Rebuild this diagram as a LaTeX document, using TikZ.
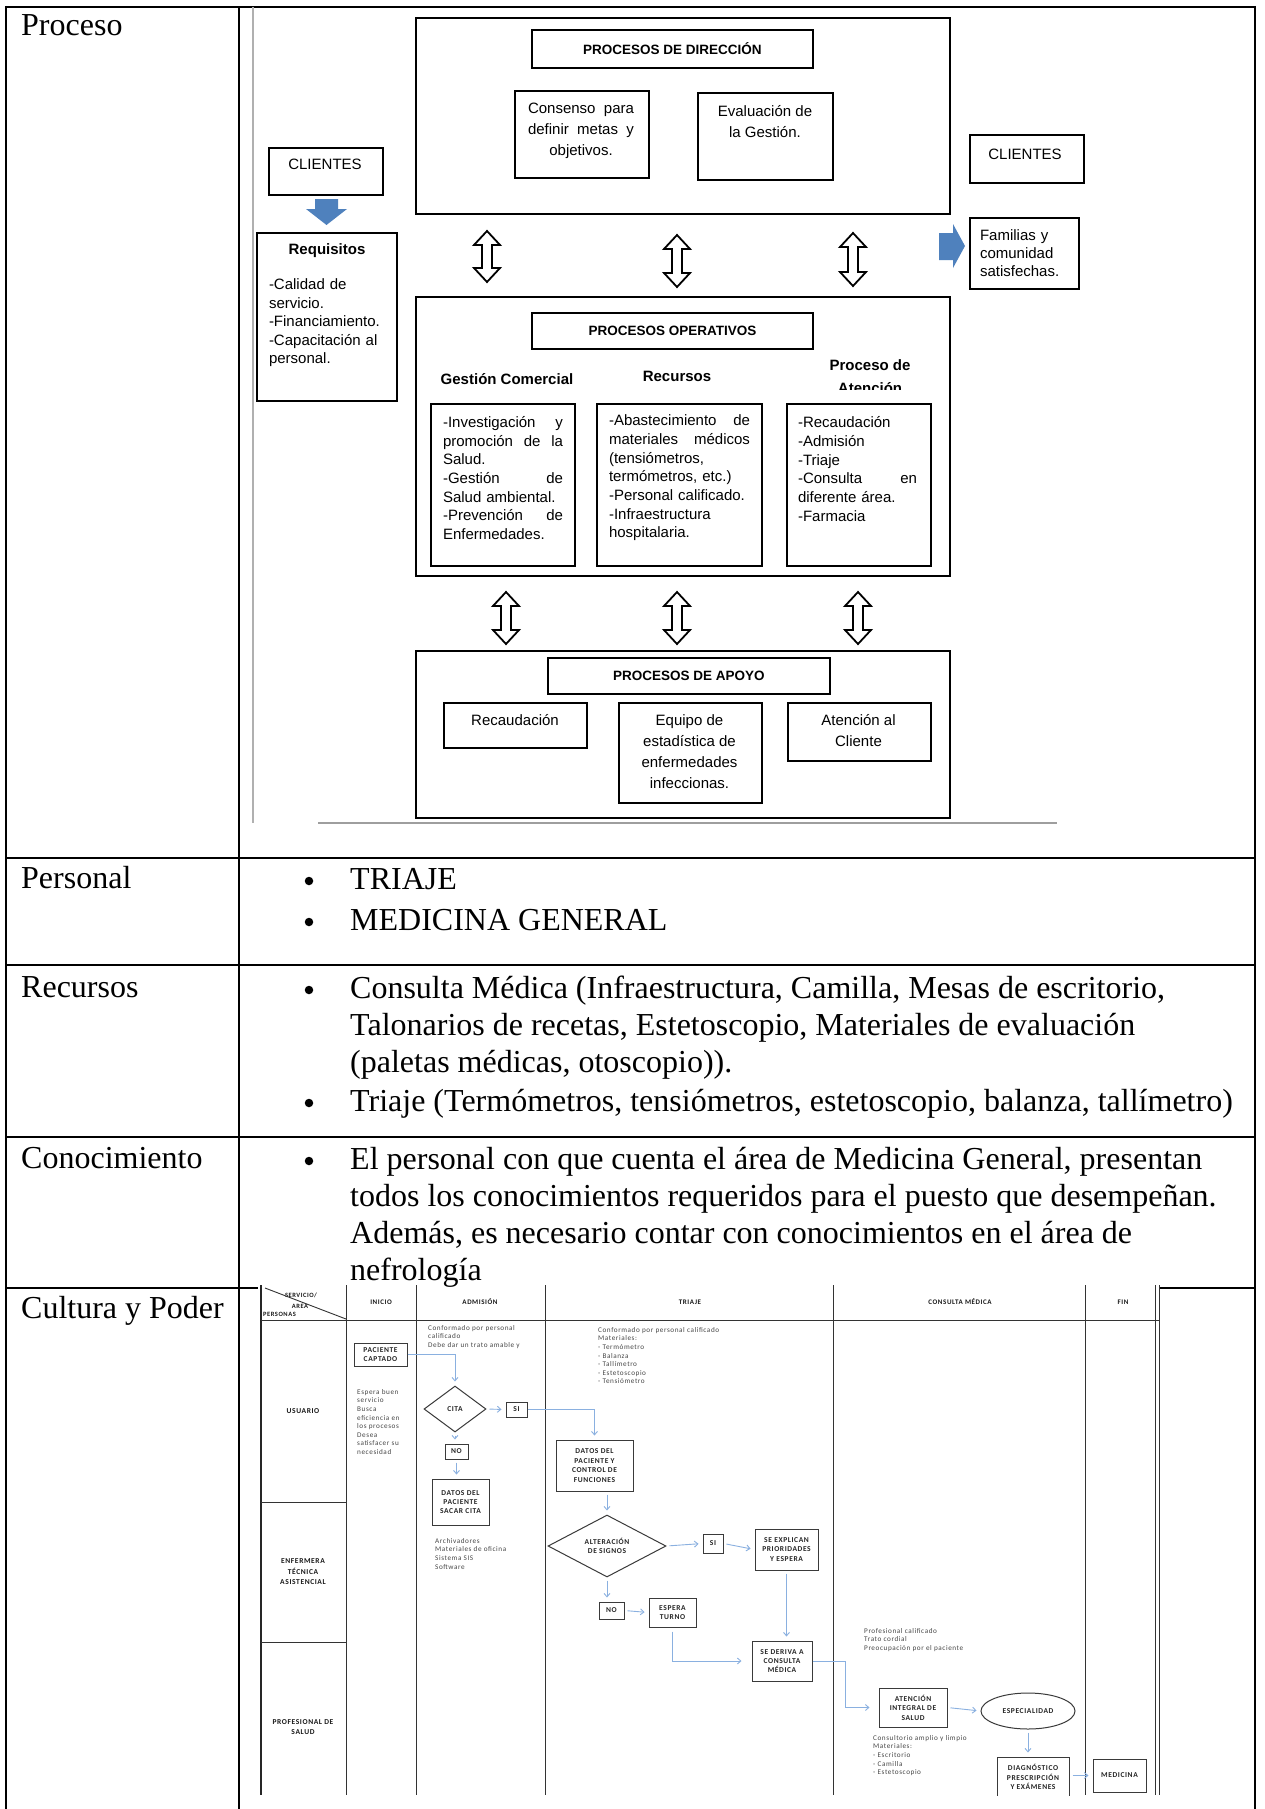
\documentclass[tikz,border=0pt]{standalone}
\usepackage{fontspec}
\setmainfont{Liberation Serif}
\newfontfamily\arialf{Liberation Sans}
\newfontfamily\calf[LetterSpace=8]{Carlito}
\usetikzlibrary{shapes.geometric,arrows.meta}

\definecolor{blockblue}{HTML}{4F81BD}
\definecolor{flowblue}{HTML}{8AB0E0}
\definecolor{boxgray}{HTML}{3A3A3A}
\definecolor{notegray}{HTML}{484848}
\definecolor{rulegray}{HTML}{B0B0B0}

% hollow up-down block arrow: centre x, top y, bottom y
\newcommand\hollowarrow[3]{%
  \draw[line width=1.8pt, fill=white]
    (#1,#2) -- (#1+13,#2+14) -- (#1+5,#2+14) -- (#1+5,#3-14) -- (#1+13,#3-14)
    -- (#1,#3) -- (#1-13,#3-14) -- (#1-5,#3-14) -- (#1-5,#2+14) -- (#1-13,#2+14) -- cycle;}

\begin{document}
\begin{tikzpicture}[x=1pt,y=-1pt,
  tblrule/.style={line width=2.2pt},
  tt/.style={font=\fontsize{32}{37}\selectfont, inner sep=0pt, anchor=base west},
  dot/.style={circle, fill, inner sep=0pt, minimum size=8.5pt},
  pbox/.style={draw, line width=1.8pt, inner sep=0pt, anchor=north west},
  ptitle/.style={font=\arialf\bfseries\fontsize{13.5}{16}\selectfont, inner sep=0pt},
  phead/.style={font=\arialf\bfseries\fontsize{15}{18}\selectfont, inner sep=0pt},
  ptext/.style={font=\arialf\fontsize{15}{18.7}\selectfont, inner sep=0pt},
  pwide/.style={font=\arialf\fontsize{15}{21}\selectfont, inner sep=0pt, align=center},
  lane/.style={line width=0.9pt, black!80},
  fb/.style={draw=boxgray, line width=1pt, inner sep=0pt, align=center,
    font=\calf\bfseries\fontsize{7.5}{9.4}\selectfont, text=black!85},
  fhead/.style={font=\calf\bfseries\fontsize{7}{9}\selectfont, inner sep=0pt, text=black!90},
  flane/.style={font=\calf\bfseries\fontsize{7.5}{10.5}\selectfont, inner sep=0pt, align=center, text=black!90},
  fnote/.style={font=\calf\fontsize{7.2}{8.6}\selectfont, text=notegray, align=left, inner sep=0pt, anchor=north west},
  flow/.style={draw=flowblue, line width=0.9pt, -{Straight Barb[length=3.5pt,width=6pt]}, shorten >=4pt, shorten <=3pt},
  flowl/.style={draw=flowblue, line width=0.9pt, -{Straight Barb[length=3.5pt,width=6pt]}, shorten >=4pt}
]
\useasboundingbox (0,0) rectangle (1265,1809);
\fill[white] (0,0) rectangle (1265,1809);

% ---------------- table frame ----------------
\draw[tblrule] (6,7) -- (1255,7);
\draw[tblrule] (6,6) -- (6,1809);
\draw[tblrule] (239,7) -- (239,1809);
\draw[tblrule] (1255,6) -- (1255,1809);
\draw[tblrule] (6,858) -- (1255,858);
\draw[tblrule] (6,965) -- (1255,965);
\draw[tblrule] (6,1137) -- (1255,1137);
\draw[tblrule] (6,1288) -- (258,1288);
\draw[tblrule] (1160,1288) -- (1255,1288);

% row labels
\node[tt] (lProceso) at (21,36) {Proceso};
\node[tt] (lPersonal) at (21,888) {Personal};
\node[tt] (lRecursos) at (21,997) {Recursos};
\node[tt] (lConoc) at (21,1168) {Conocimiento};
\node[tt] (lCultura) at (21,1318) {Cultura y Poder};

% Personal
\node[dot] (bP1) at (309,881) {};
\node[tt] (tP1) at (350,889) {TRIAJE};
\node[dot] (bP2) at (309,922) {};
\node[tt] (tP2) at (350,930) {MEDICINA GENERAL};

% Recursos
\node[dot] (bR1) at (309,990) {};
\node[tt] (tR1) at (350,998) {Consulta Médica (Infraestructura, Camilla, Mesas de escritorio,};
\node[tt] (tR2) at (350,1035) {Talonarios de recetas, Estetoscopio, Materiales de evaluación};
\node[tt] (tR3) at (350,1072) {(paletas médicas, otoscopio)).};
\node[dot] (bR2) at (309,1103) {};
\node[tt] (tR4) at (350,1111) {Triaje (Termómetros, tensiómetros, estetoscopio, balanza, tallímetro)};

% Conocimiento
\node[dot] (bC1) at (309,1161) {};
\node[tt] (tC1) at (350,1169) {El personal con que cuenta el área de Medicina General, presentan};
\node[tt] (tC2) at (350,1206) {todos los conocimientos requeridos para el puesto que desempeñan.};
\node[tt] (tC3) at (350,1243) {Además, es necesario contar con conocimientos en el área de};
\node[tt] (tC4) at (350,1280) {nefrología};

% ---------------- process map ----------------
\draw[rulegray, line width=1.5pt] (253,7) -- (253,823);
\draw[rulegray!90!black, line width=1.5pt] (318,823) -- (1057,823);

% direction processes
\node[pbox, minimum width=534pt, minimum height=196pt] (dir) at (415,17) {};
\node[pbox, minimum width=281pt, minimum height=38pt] (dirT) at (531,29) {};
\node[ptitle] (dirTx) at (dirT.center) {PROCESOS DE DIRECCIÓN};
\node[pbox, minimum width=134pt, minimum height=87pt] (cons) at (514,90) {};
\node[ptext, align=center, text width=106pt, font=\arialf\fontsize{15}{21}\selectfont] (consT) at (581,131)
  {Consenso\hfill para\\definir\hfill metas\hfill y\\objetivos.};
\node[pbox, minimum width=135pt, minimum height=87pt] (eval) at (697,92) {};
\node[pwide] (evalT) at (765,122) {Evaluación de\\la Gestión.};

% clients and requirements
\node[pbox, minimum width=114pt, minimum height=47pt] (cliL) at (268,147) {};
\node[ptext] (cliLT) at (325,164) {CLIENTES};
\fill[blockblue] (315,199) -- (338,199) -- (338,209) -- (347,209) -- (326.5,225)
  -- (306,209) -- (315,209) -- cycle;
\node[pbox, minimum width=140pt, minimum height=168pt] (req) at (256,232) {};
\node[phead] (reqH) at (327,251) {Requisitos};
\node[ptext, align=left, text width=125pt, font=\arialf\fontsize{15}{18.5}\selectfont] (reqT) at (331.5,323)
  {-Calidad de\\servicio.\\-Financiamiento.\\-Capacitación al\\personal.};

\node[pbox, minimum width=114pt, minimum height=48pt] (cliR) at (969,134) {};
\node[ptext] (cliRT) at (1025,154) {CLIENTES};
\fill[blockblue] (939,233) -- (953,233) -- (953,224) -- (965,246) -- (953,268)
  -- (953,260) -- (939,260) -- cycle;
\node[pbox, minimum width=109pt, minimum height=71pt] (fam) at (969,217) {};
\node[ptext, align=left, text width=100pt, font=\arialf\fontsize{15}{18}\selectfont] (famT) at (1030,253)
  {Familias y\\comunidad\\satisfechas.};

% links between levels
\hollowarrow{487}{231}{282}
\hollowarrow{677}{235}{287}
\hollowarrow{853}{233}{286}

% operative processes
\node[pbox, minimum width=534pt, minimum height=279pt] (op) at (415,296) {};
\node[pbox, minimum width=281pt, minimum height=36pt] (opT) at (531,312) {};
\node[ptitle] (opTx) at (opT.center) {PROCESOS OPERATIVOS};
\node[phead] (hGest) at (507,379) {Gestión Comercial};
\node[phead] (hRec) at (677,376) {Recursos};
\node[phead] (hProc) at (870,365) {Proceso de};
\begin{scope}
  \clip (800,340) rectangle (940,389);
  \node[phead] (hAten) at (870,388) {Atención};
\end{scope}
\node[pbox, minimum width=144pt, minimum height=162pt] (g1) at (430,403) {};
\node[pbox, minimum width=165pt, minimum height=162pt] (g2) at (596,403) {};
\node[pbox, minimum width=144pt, minimum height=162pt] (g3) at (786,403) {};
\node[ptext, align=left, text width=120pt] (g1T) at (503,478)
  {-Investigación\hfill y\\promoción\hfill de\hfill la\\Salud.\\-Gestión\hfill de\\Salud ambiental.\\-Prevención\hfill de\\Enfermedades.};
\node[ptext, align=left, text width=141pt] (g2T) at (679.5,478)
  {-Abastecimiento\hfill de\\materiales\hfill médicos\\(tensiómetros,\\termómetros, etc.)\\-Personal calificado.\\-Infraestructura\\hospitalaria.};
\node[ptext, align=left, text width=119pt] (g3T) at (857.5,469)
  {-Recaudación\\-Admisión\\-Triaje\\-Consulta\hfill en\\diferente área.\\-Farmacia};

\hollowarrow{506}{592}{644}
\hollowarrow{677}{592}{644}
\hollowarrow{858}{592}{644}

% support processes
\node[pbox, minimum width=534pt, minimum height=167pt] (apo) at (415,650) {};
\node[pbox, minimum width=282pt, minimum height=36pt] (apoT) at (547,657) {};
\node[ptitle] (apoTx) at (apoT.center) {PROCESOS DE APOYO};
\node[pbox, minimum width=143pt, minimum height=45pt] (rec) at (443,702) {};
\node[ptext] (recT) at (515,720) {Recaudación};
\node[pbox, minimum width=143pt, minimum height=100pt] (equ) at (618,702) {};
\node[pwide] (equT) at (689.5,752) {Equipo de\\estadística de\\enfermedades\\infeccionas.};
\node[pbox, minimum width=143pt, minimum height=58pt] (ate) at (787,702) {};
\node[pwide] (ateT) at (858.5,731) {Atención al\\Cliente};

% ---------------- swim-lane flowchart ----------------
\begin{scope}
\clip (258,1285) rectangle (1164,1795);
\draw[line width=2pt, black!85] (261,1285) -- (261,1795);
\foreach \xx in {346,416,545,833,1085,1155,1159}
  \draw[lane] (\xx,1285) -- (\xx,1795);
\draw[lane] (261,1320) -- (1159,1320);
\draw[lane] (261,1502) -- (346,1502);
\draw[lane] (261,1642) -- (346,1642);

% header row
\node[fhead, font=\calf\bfseries\fontsize{6.5}{8}\selectfont] (hSrv) at (301,1295) {SERVICIO/};
\node[fhead, font=\calf\bfseries\fontsize{6.5}{8}\selectfont] (hArea) at (300,1306) {AREA};
\node[fhead, font=\calf\bfseries\fontsize{6.5}{8}\selectfont, anchor=west] (hPers) at (263,1314) {PERSONAS};
\draw[lane] (265,1288) -- (346,1319);
\node[fhead] (hIni) at (381,1302) {INICIO};
\node[fhead] (hAdm) at (480,1302) {ADMISIÓN};
\node[fhead] (hTri) at (690,1302) {TRIAJE};
\node[fhead] (hCon) at (960,1302) {CONSULTA MÉDICA};
\node[fhead] (hFin) at (1123,1302) {FIN};

% lane labels
\node[flane] (lnU) at (303,1411) {USUARIO};
\node[flane] (lnE) at (303,1572) {ENFERMERA\\TÉCNICA\\ASISTENCIAL};
\node[flane] (lnP) at (303,1727) {PROFESIONAL DE\\SALUD};

% notes
\node[fnote] (nAdm) at (428,1325) {Conformado por personal\\calificado\\Debe dar un trato amable y};
\node[fnote] (nIni) at (357,1389) {Espera buen\\servicio\\Busca\\eficiencia en\\los procesos\\Desea\\satisfacer su\\necesidad};
\node[fnote] (nTri) at (598,1327) {Conformado por personal calificado\\Materiales:\\- Termómetro\\- Balanza\\- Tallímetro\\- Estetoscopio\\- Tensiómetro};
\node[fnote] (nAdm2) at (435,1538) {Archivadores\\Materiales de oficina\\Sistema SIS\\Software};
\node[fnote] (nCon) at (864,1628) {Profesional calificado\\Trato cordial\\Preocupación por el paciente};
\node[fnote] (nCon2) at (873,1735) {Consultorio amplio y limpio\\Materiales:\\- Escritorio\\- Camilla\\- Estetoscopio};

% process steps
\node[fb, minimum width=53pt, minimum height=23pt] (pac) at (380.5,1354.5) {PACIENTE\\CAPTADO};
\node[fb, diamond, aspect=1.35, minimum width=62pt, minimum height=46pt] (cita) at (455,1409) {CITA};
\node[fb, minimum width=21pt, minimum height=15pt] (si1) at (516.5,1409.5) {SI};
\node[fb, minimum width=23pt, minimum height=15pt] (no1) at (456.5,1451.5) {NO};
\node[fb, minimum width=57pt, minimum height=46pt] (sacar) at (460.5,1502) {DATOS DEL\\PACIENTE\\SACAR CITA};
\node[fb, minimum width=77pt, minimum height=51pt] (dpc) at (594.5,1465.5) {DATOS DEL\\PACIENTE Y\\CONTROL DE\\FUNCIONES};
\node[fb, diamond, aspect=1.9, minimum width=118pt, minimum height=62pt] (alt) at (607,1546) {ALTERACIÓN\\DE SIGNOS};
\node[fb, minimum width=20pt, minimum height=19pt] (si2) at (713,1543.5) {SI};
\node[fb, minimum width=63pt, minimum height=41pt] (expl) at (786.5,1549.5) {SE EXPLICAN\\PRIORIDADES\\Y ESPERA};
\node[fb, minimum width=25pt, minimum height=17pt] (no2) at (611.5,1610.5) {NO};
\node[fb, minimum width=47pt, minimum height=29pt] (esp) at (672.5,1612.5) {ESPERA\\TURNO};
\node[fb, minimum width=60pt, minimum height=40pt] (deriva) at (782,1661) {SE DERIVA A\\CONSULTA\\MÉDICA};
\node[fb, minimum width=68pt, minimum height=39pt] (aten) at (913,1707.5) {ATENCIÓN\\INTEGRAL DE\\SALUD};
\node[fb, ellipse, minimum width=94pt, minimum height=36pt] (espec) at (1028,1711) {ESPECIALIDAD};
\node[fb, minimum width=72pt, minimum height=40pt] (diag) at (1033,1777) {DIAGNÓSTICO\\PRESCRIPCIÓN\\Y EXÁMENES};
\node[fb, minimum width=53pt, minimum height=33pt] (med) at (1119.5,1775.5) {MEDICINA};

% connectors
\draw[flowl] (pac.east) -| (cita.north);
\draw[flow] (cita.east) -- (si1.west);
\draw[flowl] (si1.east) -| (dpc.north);
\draw[flow] (cita.south) -- (cita.south |- no1.north);
\draw[flow] (no1.south) -- (no1.south |- sacar.north);
\draw[flow] (dpc.south -| alt.north) -- (alt.north);
\draw[flow] (alt.east) -- (si2.west);
\draw[flow] (si2.east) -- (expl.west);
\draw[flow] (alt.south) -- (alt.south |- no2.north);
\draw[flow] (no2.east) -- (esp.west);
\draw[flowl, shorten <=4pt, shorten >=10pt] (esp.south) |- (deriva.west);
\draw[flow] (expl.south) -- (expl.south |- deriva.north);
\draw[flowl, shorten >=9pt] (deriva.east) -- ++(33,0) |- (aten.west);
\draw[flow] (aten.east) -- (espec.west);
\draw[flow] (espec.south) -- (espec.south |- diag.north);
\draw[flow] (diag.east |- med.west) -- (med.west);
\end{scope}

\end{tikzpicture}
\end{document}
